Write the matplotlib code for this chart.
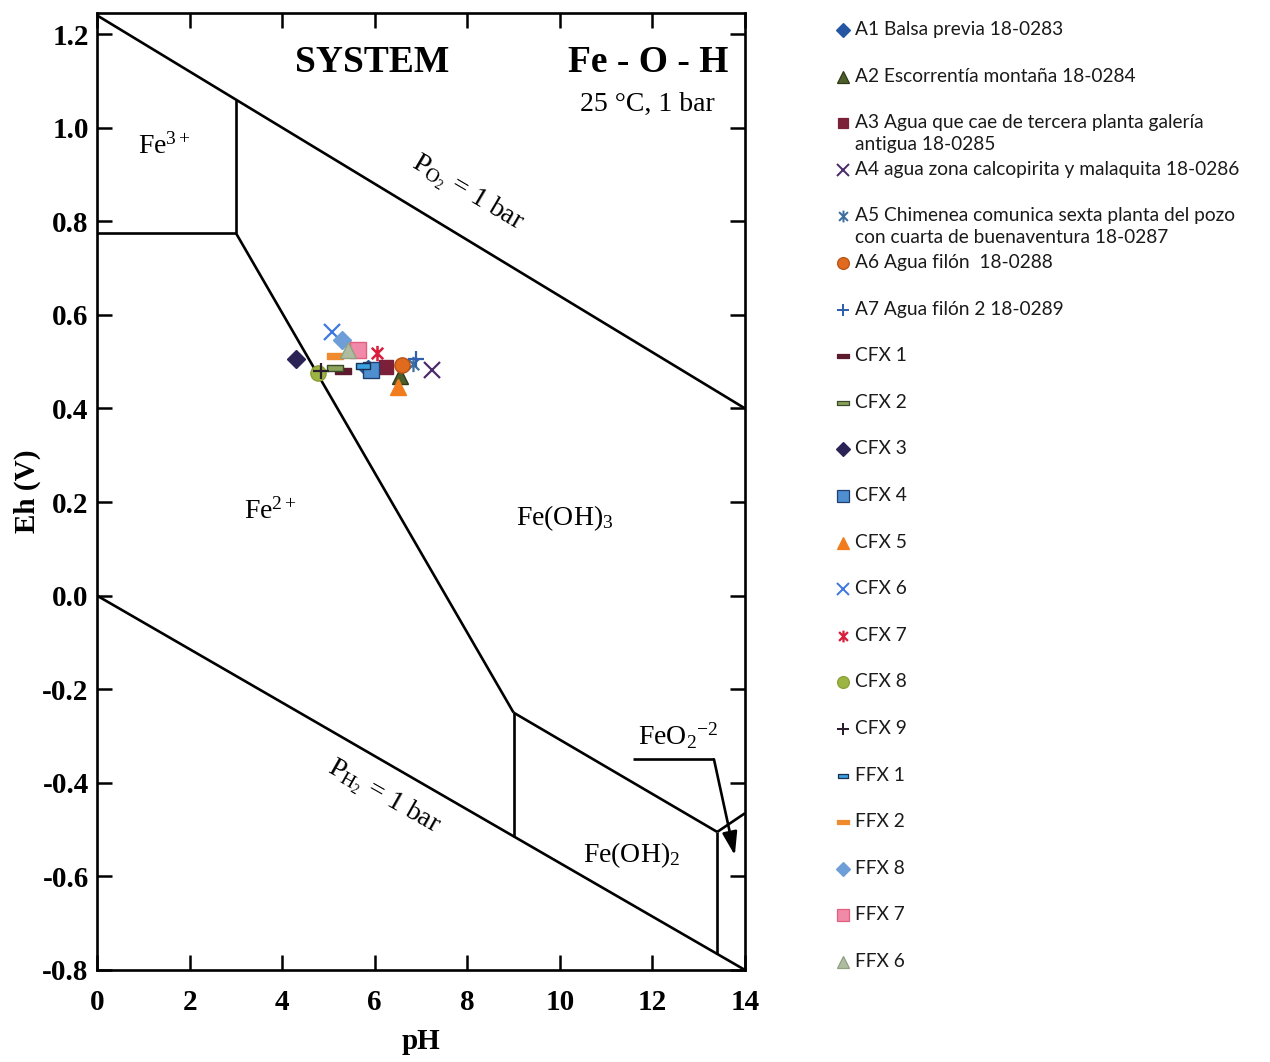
import matplotlib
matplotlib.use('Agg')
import matplotlib.pyplot as plt
from matplotlib.path import Path

plt.rcParams['axes.unicode_minus'] = False
plt.rcParams['mathtext.fontset'] = 'custom'
plt.rcParams['mathtext.rm'] = 'Liberation Serif'
plt.rcParams['mathtext.it'] = 'Liberation Serif:italic'
plt.rcParams['mathtext.bf'] = 'Liberation Serif:bold'

# ---------------- data ----------------
labels = [
    "A1 Balsa previa 18-0283",
    "A2 Escorrentía montaña 18-0284",
    "A3 Agua que cae de tercera planta galería\nantigua 18-0285",
    "A4 agua zona calcopirita y malaquita 18-0286",
    "A5 Chimenea comunica sexta planta del pozo\ncon cuarta de buenaventura 18-0287",
    "A6 Agua filón  18-0288",
    "A7 Agua filón 2 18-0289",
    "CFX 1", "CFX 2", "CFX 3", "CFX 4", "CFX 5", "CFX 6", "CFX 7", "CFX 8", "CFX 9",
    "FFX 1", "FFX 2", "FFX 8", "FFX 7", "FFX 6",
]
ph = [5.85, 6.55, 6.25, 7.23, 6.82, 6.58, 6.90,
      5.32, 5.14, 4.29, 5.93, 6.51, 5.07, 6.04, 4.78, 4.85,
      5.75, 5.14, 5.30, 5.64, 5.42]
eh = [0.485, 0.470, 0.488, 0.482, 0.495, 0.493, 0.505,
      0.479, 0.486, 0.506, 0.482, 0.445, 0.563, 0.518, 0.476, 0.480,
      0.490, 0.512, 0.547, 0.525, 0.525]

# stability field boundaries (pH, Eh)
o2_ph, o2_eh = [0, 14], [1.24, 0.40]
h2_ph, h2_eh = [0, 14], [0.0, -0.80]
fe3_fe2_ph, fe3_fe2_eh = [0, 3], [0.775, 0.775]
fe3_feoh3_ph, fe3_feoh3_eh = [3, 3], [0.775, 1.06]
fe2_feoh3_ph, fe2_feoh3_eh = [3, 9.0], [0.775, -0.25]
fe2_feoh2_ph, fe2_feoh2_eh = [9.0, 9.0], [-0.25, -0.515]
feoh3_feoh2_ph, feoh3_feoh2_eh = [9.0, 13.4], [-0.25, -0.505]
feoh3_feo2_ph, feoh3_feo2_eh = [13.4, 14.0], [-0.505, -0.465]
feoh2_feo2_ph, feoh2_feo2_eh = [13.4, 13.4], [-0.505, -0.766]
arrow_ph, arrow_eh = [11.58, 13.33], [-0.35, -0.35]
arrow_tip = (13.78, -0.555)

xticks = [0, 2, 4, 6, 8, 10, 12, 14]
yticks = [-0.8, -0.6, -0.4, -0.2, 0.0, 0.2, 0.4, 0.6, 0.8, 1.0, 1.2]
ytick_labels = ["-0.8", "-0.6", "-0.4", "-0.2", "0.0", "0.2", "0.4", "0.6", "0.8", "1.0", "1.2"]

# ---------------- styles ----------------
asterisk = Path([(0, -1), (0, 1), (-0.75, -0.75), (0.75, 0.75), (-0.75, 0.75), (0.75, -0.75)],
                [Path.MOVETO, Path.LINETO, Path.MOVETO, Path.LINETO, Path.MOVETO, Path.LINETO])
bar = Path([(-1, -0.38), (1, -0.38), (1, 0.38), (-1, 0.38), (-1, -0.38)],
           [Path.MOVETO, Path.LINETO, Path.LINETO, Path.LINETO, Path.CLOSEPOLY])

styles = [
    dict(marker='D', mfc='#2456a4', mec='#2456a4', s=0.8),
    dict(marker='^', mfc='#4d5e2a', mec='#2e3a18', s=1.0),
    dict(marker='s', mfc='#7b2038', mec='#7b2038', s=0.9),
    dict(marker='x', mfc='#4b2c6b', mec='#4b2c6b', s=1.0, lw=1.6),
    dict(marker=asterisk, mfc='none', mec='#3d6e9e', s=1.0, lw=1.6),
    dict(marker='o', mfc='#e06a1e', mec='#b85212', s=1.0),
    dict(marker='+', mfc='#2f5fb0', mec='#2f5fb0', s=1.0, lw=1.6),
    dict(marker=bar, mfc='#5c1a2c', mec='#5c1a2c', s=1.0),
    dict(marker=bar, mfc='#8ba35a', mec='#3a4a2a', s=1.0),
    dict(marker='D', mfc='#2b2356', mec='#2b2356', s=0.8),
    dict(marker='s', mfc='#4f8fd0', mec='#1f3f70', s=1.0),
    dict(marker='^', mfc='#f07c1e', mec='#f07c1e', s=1.0),
    dict(marker='x', mfc='#3e78e0', mec='#3e78e0', s=1.0, lw=1.6),
    dict(marker=asterisk, mfc='none', mec='#d81e3c', s=1.0, lw=1.8),
    dict(marker='o', mfc='#9bb443', mec='#8aa030', s=1.0),
    dict(marker='+', mfc='#2a1e2e', mec='#2a1e2e', s=1.0, lw=1.6),
    dict(marker=bar, mfc='#3aa0e0', mec='#1a3050', s=0.9),
    dict(marker=bar, mfc='#f08a2e', mec='#f08a2e', s=1.0),
    dict(marker='D', mfc='#6d9ed8', mec='#6d9ed8', s=0.8),
    dict(marker='s', mfc='#f08aa8', mec='#e06080', s=1.0),
    dict(marker='^', mfc='#b0bca0', mec='#90a080', s=1.0),
]

W, H = 1270, 1062
fig = plt.figure(figsize=(W / 100, H / 100), dpi=100)
ax = fig.add_axes([97 / W, (H - 970) / H, (745 - 97) / W, (970 - 13) / H])

lk = dict(color='black', lw=1.9, solid_capstyle='butt', zorder=2)
for xs, ys in [(o2_ph, o2_eh), (h2_ph, h2_eh), (fe3_fe2_ph, fe3_fe2_eh),
               (fe3_feoh3_ph, fe3_feoh3_eh), (fe2_feoh3_ph, fe2_feoh3_eh),
               (fe2_feoh2_ph, fe2_feoh2_eh), (feoh3_feoh2_ph, feoh3_feoh2_eh),
               (feoh3_feo2_ph, feoh3_feo2_eh), (feoh2_feo2_ph, feoh2_feo2_eh),
               (arrow_ph, arrow_eh)]:
    ax.plot(xs, ys, **lk)
ax.annotate('', xy=arrow_tip, xytext=(arrow_ph[-1], arrow_eh[-1]),
            arrowprops=dict(arrowstyle='-|>,head_length=1.4,head_width=0.45',
                            color='black', lw=1.9, shrinkA=0, shrinkB=0))

for x, y, st in zip(ph, eh, styles):
    ax.plot([x], [y], linestyle='none', marker=st['marker'], ms=11 * st['s'],
            mfc=st['mfc'], mec=st['mec'], mew=st.get('lw', 1.0), zorder=3)

ax.set_xlim(0, 14)
ax.set_ylim(-0.8, 1.245)
ax.set_xticks(xticks)
ax.set_yticks(yticks)
ax.set_yticklabels(ytick_labels)
ax.tick_params(direction='in', length=11, width=1.8, top=True, right=True)
ax.tick_params(axis='x', pad=14)
ax.tick_params(axis='y', pad=6)
for lab in ax.get_xticklabels() + ax.get_yticklabels():
    lab.set_fontfamily('Liberation Serif')
    lab.set_fontweight('bold')
    lab.set_fontsize(21)
for sp in ax.spines.values():
    sp.set_linewidth(1.9)

serif = 'Liberation Serif'
ax.set_xlabel('pH', fontfamily=serif, fontweight='bold', fontsize=21, labelpad=8)
ax.set_ylabel('Eh (V)', fontfamily=serif, fontweight='bold', fontsize=21, labelpad=1)

ax.text(5.94, 1.14, 'SYSTEM', fontfamily=serif, fontweight='bold', fontsize=27, ha='center', va='center')
ax.text(11.9, 1.14, 'Fe - O - H', fontfamily=serif, fontweight='bold', fontsize=27, ha='center', va='center')
ax.text(11.9, 1.05, '25 \u00b0C, 1 bar', fontfamily=serif, fontsize=20, ha='center', va='center')
ax.text(1.45, 0.96, r'Fe$^{3+}$', fontfamily=serif, fontsize=20, ha='center', va='center')
ax.text(3.75, 0.18, r'Fe$^{2+}$', fontfamily=serif, fontsize=20, ha='center', va='center')
ax.text(10.1, 0.165, r'Fe(OH)$_3$', fontfamily=serif, fontsize=20, ha='center', va='center')
ax.text(11.55, -0.555, r'Fe(OH)$_2$', fontfamily=serif, fontsize=20, ha='center', va='center')
ax.text(12.55, -0.30, r'FeO$_2$$^{-2}$', fontfamily=serif, fontsize=20, ha='center', va='center')
ax.text(8.0, 0.86, r'P$_{\mathrm{O}_2}$ = 1 bar', fontfamily=serif, fontsize=20, ha='center', va='center',
        rotation=-30.5, rotation_mode='anchor')
ax.text(6.2, -0.43, r'P$_{\mathrm{H}_2}$ = 1 bar', fontfamily=serif, fontsize=20, ha='center', va='center',
        rotation=-29.5, rotation_mode='anchor')

# ---------------- legend (manual) ----------------
lax = fig.add_axes([0, 0, 1, 1])
lax.set_xlim(0, W)
lax.set_ylim(H, 0)
lax.axis('off')
row0, step = 30, 46.6
for i, (lab, st) in enumerate(zip(labels, styles)):
    y = row0 + i * step
    lax.plot([843], [y], linestyle='none', marker=st['marker'], ms=8.5 * st['s'],
             mfc=st['mfc'], mec=st['mec'], mew=st.get('lw', 1.0) * 0.9)
    lax.text(855, y - 9, lab, fontfamily='Lato', fontsize=13.8, color='#1a1a1a',
             ha='left', va='top', linespacing=1.35)

fig.savefig('out.png', dpi=100)
